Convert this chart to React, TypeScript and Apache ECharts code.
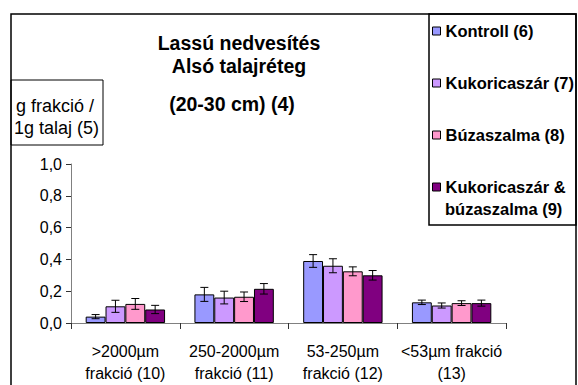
import React, { useEffect, useRef } from 'react';
import * as echarts from 'echarts';

const categories = ['>2000µm\nfrakció (10)', '250-2000µm\nfrakció (11)', '53-250µm\nfrakció (12)', '<53µm frakció\n(13)'];
const seriesNames = ['Kontroll (6)', 'Kukoricaszár (7)', 'Búzaszalma (8)', 'Kukoricaszár &\nbúzaszalma (9)'];
const kontroll = [0.04, 0.18, 0.39, 0.13];
const kukoricaszar = [0.105, 0.16, 0.36, 0.11];
const buzaszalma = [0.12, 0.165, 0.325, 0.125];
const kombinalt = [0.085, 0.215, 0.3, 0.125];
const kontrollErr = [0.013, 0.044, 0.04, 0.014];
const kukoricaszarErr = [0.038, 0.04, 0.044, 0.016];
const buzaszalmaErr = [0.034, 0.03, 0.028, 0.015];
const kombinaltErr = [0.026, 0.033, 0.03, 0.019];
const yTicks = [0, 0.2, 0.4, 0.6, 0.8, 1.0];
const colors = ['#9999FF', '#CC99FF', '#FF99CC', '#800080'];
const titleLines = ['Lassú nedvesítés', 'Alsó talajréteg', '(20-30 cm) (4)'];
const yTitleLines = ['g frakció /', '1g talaj (5)'];

const FONT = 'Liberation Sans, Arial, sans-serif';
const CAT_GAP = 0.27;

export default function App() {
  const ref = useRef<HTMLDivElement>(null);
  useEffect(() => {
    if (!ref.current) return;
    const chart = echarts.init(ref.current, null, { renderer: 'svg' });
    const values = [kontroll, kukoricaszar, buzaszalma, kombinalt];
    const errs = [kontrollErr, kukoricaszarErr, buzaszalmaErr, kombinaltErr];

    const barSeries = seriesNames.map((name, i) => ({
      type: 'bar',
      name,
      data: values[i],
      barGap: '0%',
      barCategoryGap: CAT_GAP * 100 + '%',
      itemStyle: { color: colors[i], borderColor: '#000', borderWidth: 1 },
      z: 2,
    }));

    const errSeries = seriesNames.map((name, i) => ({
      type: 'custom',
      name: 'err' + i,
      z: 5,
      data: values[i].map((v, k) => [k, v - errs[i][k], v + errs[i][k]]),
      renderItem: (params: any, api: any) => {
        const k = api.value(0);
        const lo = api.coord([k, api.value(1)]);
        const hi = api.coord([k, api.value(2)]);
        const band = api.size([1, 0])[0];
        const bw = (band * (1 - CAT_GAP)) / 4;
        const x = lo[0] + (i - 1.5) * bw;
        const cap = 4;
        const st = { stroke: '#000', lineWidth: 1 };
        return {
          type: 'group',
          children: [
            { type: 'line', shape: { x1: x, y1: lo[1], x2: x, y2: hi[1] }, style: st },
            { type: 'line', shape: { x1: x - cap, y1: lo[1], x2: x + cap, y2: lo[1] }, style: st },
            { type: 'line', shape: { x1: x - cap, y1: hi[1], x2: x + cap, y2: hi[1] }, style: st },
          ],
        };
      },
    }));

    const titleFont = 'bold 19.5px ' + FONT;
    const titleText = (text: string, x: number, y: number, font: string, align = 'center') => ({
      type: 'text',
      x,
      y,
      silent: true,
      style: { text, font, fill: '#000', textAlign: align, textVerticalAlign: 'middle' },
    });

    chart.setOption({
      animation: false,
      backgroundColor: '#fff',
      textStyle: { fontFamily: FONT },
      legend: {
        orient: 'vertical',
        left: 432,
        top: 21,
        padding: 0,
        itemGap: 32,
        itemWidth: 8,
        itemHeight: 8,
        icon: 'rect',
        itemStyle: { borderColor: '#000', borderWidth: 1 },
        textStyle: { fontSize: 16.5, fontWeight: 'bold', color: '#000', lineHeight: 20, fontFamily: FONT },
        formatter: (name: string) => name.split('\n')[0],
        data: seriesNames,
      },
      grid: { left: 71, right: 72, top: 164, bottom: 62 },
      xAxis: {
        type: 'category',
        data: categories,
        axisLine: { lineStyle: { color: '#808080', width: 1 } },
        axisTick: { show: true, length: 6, lineStyle: { color: '#333' } },
        axisLabel: { fontSize: 16, color: '#000', lineHeight: 22, margin: 17, fontFamily: FONT, interval: 0 },
      },
      yAxis: {
        type: 'value',
        min: yTicks[0],
        max: yTicks[yTicks.length - 1],
        interval: 0.2,
        axisLine: { show: true, lineStyle: { color: '#808080', width: 1 } },
        axisTick: { show: true, length: 5, lineStyle: { color: '#333' } },
        splitLine: { show: false },
        axisLabel: {
          fontSize: 16,
          color: '#000',
          margin: 9,
          fontFamily: FONT,
          formatter: (v: number) => v.toFixed(1).replace('.', ','),
        },
      },
      graphic: [
        { type: 'rect', shape: { x: 11, y: 14, width: 565, height: 390 }, style: { fill: 'none', stroke: '#000', lineWidth: 1.5 }, silent: true },
        { type: 'rect', shape: { x: 429, y: 14, width: 147, height: 211 }, style: { fill: 'none', stroke: '#000', lineWidth: 1.5 }, silent: true },
        { type: 'rect', shape: { x: 11, y: 80, width: 92, height: 65 }, style: { fill: 'none', stroke: '#000', lineWidth: 1 }, silent: true },
        titleText(titleLines[0], 239, 43, titleFont),
        titleText(titleLines[1], 239, 66, titleFont),
        titleText(titleLines[2], 232, 104, titleFont),
        titleText(yTitleLines[0], 16, 106, '18px ' + FONT, 'left'),
        titleText(yTitleLines[1], 14, 128, '18px ' + FONT, 'left'),
        titleText(seriesNames[3].split('\n')[1], 445, 209, 'bold 16.5px ' + FONT, 'left'),
      ],
      series: [...barSeries, ...errSeries],
    });
    return () => chart.dispose();
  }, []);
  return <div ref={ref} style={{ width: 578, height: 385, position: 'absolute', left: 0, top: 0 }} />;
}
